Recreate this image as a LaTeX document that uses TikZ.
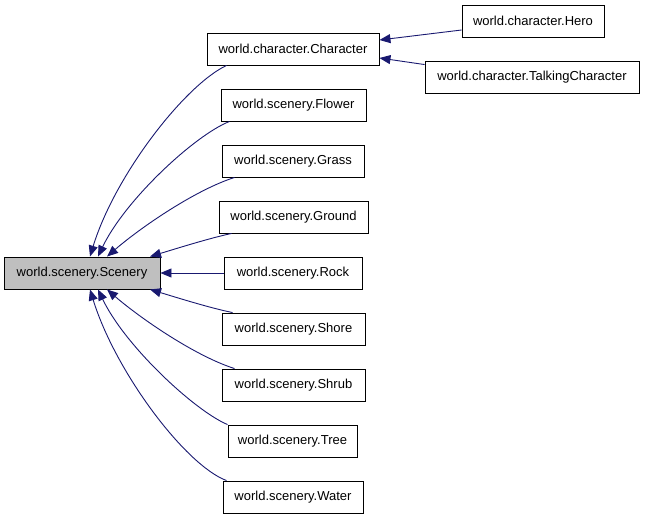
\documentclass[tikz,border=0pt]{standalone}
\usepackage{fontspec}
\setmainfont{Liberation Sans}
\usetikzlibrary{arrows.meta}
\definecolor{edgeblue}{RGB}{25,25,112}
\definecolor{basegray}{RGB}{191,191,191}
\tikzset{
  cls/.style={draw=black, line width=0.9pt, minimum height=32pt, inner xsep=0pt, inner ysep=0pt,
    font=\fontsize{13}{15}\selectfont, text=black},
  inh/.style={draw=edgeblue, line width=0.9pt, -{Triangle[length=11pt,width=9pt]}}
}
\begin{document}
\begin{tikzpicture}[x=1pt,y=-1pt]
\useasboundingbox (0,0) rectangle (645,519);
\node[cls, fill=basegray, minimum width=156pt] (scen) at (82,273) {world.scenery.Scenery};
\node[cls, minimum width=172pt] (char) at (293,49) {world.character.Character};
\node[cls, minimum width=145pt] (flower) at (293.5,105) {world.scenery.Flower};
\node[cls, minimum width=142pt] (grass) at (293,161) {world.scenery.Grass};
\node[cls, minimum width=149pt] (ground) at (293.5,217) {world.scenery.Ground};
\node[cls, minimum width=138pt] (rock) at (293,273) {world.scenery.Rock};
\node[cls, minimum width=143pt] (shore) at (293.5,329) {world.scenery.Shore};
\node[cls, minimum width=143pt] (shrub) at (293.5,385) {world.scenery.Shrub};
\node[cls, minimum width=129pt] (tree) at (292.5,441) {world.scenery.Tree};
\node[cls, minimum width=140pt] (water) at (293,497) {world.scenery.Water};
\node[cls, minimum width=142pt] (hero) at (533,21) {world.character.Hero};
\node[cls, minimum width=214pt] (talk) at (532,77) {world.character.TalkingCharacter};

\draw[inh] ([xshift=20pt]char.south west) .. controls (185,85) and (115,175) .. ([xshift=8pt]scen.north);
\draw[inh] ([xshift=9pt]flower.south west) .. controls (195,135) and (125,200) .. ([xshift=16pt]scen.north);
\draw[inh] ([xshift=13pt]grass.south west) .. controls (195,190) and (140,228) .. ([xshift=25pt]scen.north);
\draw[inh] ([xshift=13pt]ground.south west) .. controls (210,238) and (175,249) .. ([xshift=68pt]scen.north);
\draw[inh] (rock.west) -- (scen.east);
\draw[inh] ([xshift=11pt]shore.north west) .. controls (210,308) and (175,297) .. ([xshift=68pt]scen.south);
\draw[inh] ([xshift=13pt]shrub.north west) .. controls (195,356) and (140,318) .. ([xshift=25pt]scen.south);
\draw[inh] ([xshift=0pt]tree.north west) .. controls (195,411) and (125,346) .. ([xshift=16pt]scen.south);
\draw[inh] ([xshift=4pt]water.north west) .. controls (185,465) and (115,371) .. ([xshift=8pt]scen.south);

\draw[inh] ([yshift=-9pt]hero.west) -- ([yshift=9pt]char.east);
\draw[inh] ([yshift=-4pt]talk.north west) -- ([yshift=-9pt]char.east);
\end{tikzpicture}
\end{document}
